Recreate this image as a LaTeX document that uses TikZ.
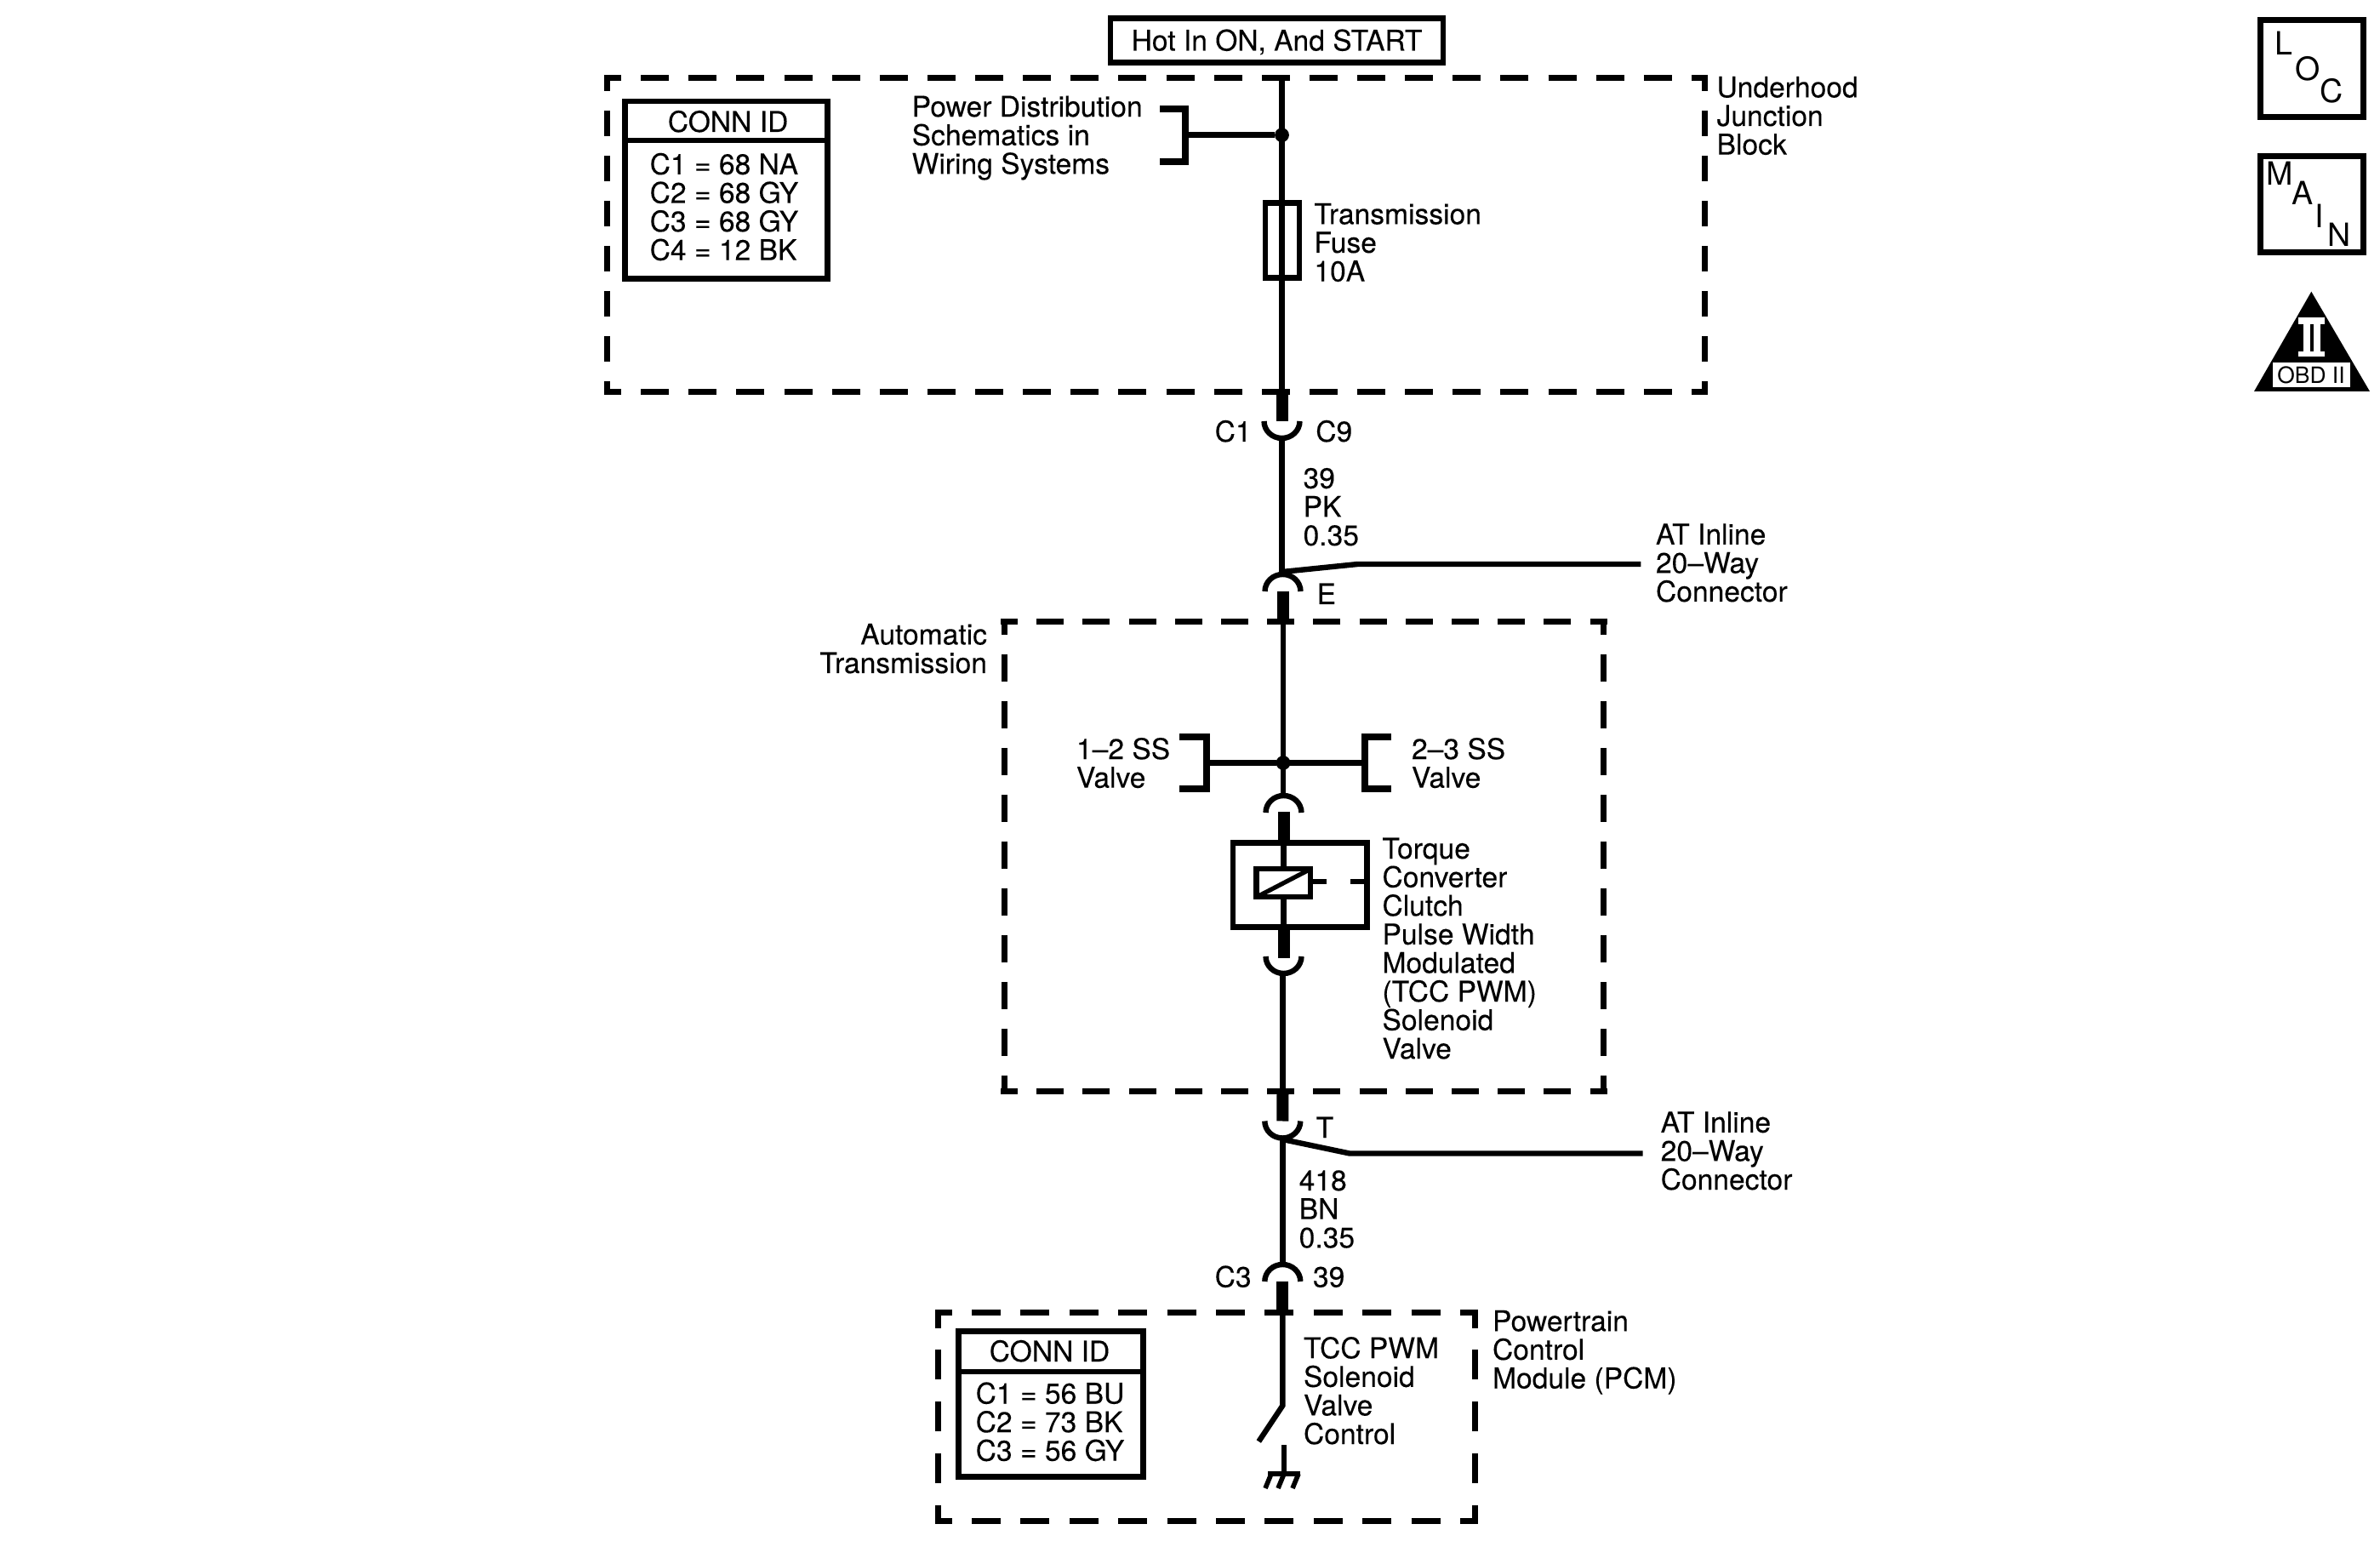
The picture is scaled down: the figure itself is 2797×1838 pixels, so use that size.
\documentclass[tikz,border=0pt]{standalone}
\usepackage{fontspec}
\setmainfont{TeX Gyre Heros}
\newfontfamily\lblfont{TeX Gyre Heros}[FakeBold=0.12]
\tikzset{
  wire/.style={line width=1.6pt,line join=miter},
  bracket/.style={line width=1.8pt,line join=miter},
  thickwire/.style={line width=3.5pt},
  frame/.style={line width=1.75pt},
  solid box/.style={draw,rectangle,line width=1.6pt,inner sep=0pt,outer sep=0pt},
  lbl/.style={inner sep=0pt,outer sep=0pt,anchor=base west,align=left,font=\lblfont\fontsize{8.4pt}{8.4pt}\selectfont},
  lblr/.style={lbl,anchor=base east,align=right},
  icon/.style={inner sep=0pt,outer sep=0pt,anchor=base west,font=\fontsize{9.4pt}{9.4pt}\selectfont},
  dot/.style={circle,fill,inner sep=0pt,outer sep=0pt,minimum size=4.2pt},
}
\newcommand{\connU}[1]{\draw[wire] (#1) ++(-21,0) arc[start angle=180,end angle=360,x radius=5.25pt,y radius=5pt];}
\newcommand{\connN}[1]{\draw[wire] (#1) ++(-21,0) arc[start angle=180,end angle=0,x radius=5.25pt,y radius=5pt];}
\begin{document}
\begin{tikzpicture}[x=0.25pt,y=-0.25pt]
\useasboundingbox (0,0) rectangle (2797,1838);

% --- dashed frames -------------------------------------------------
\coordinate (uhnw) at (709.5,91.7);  \coordinate (uhne) at (2007,91.7);
\coordinate (uhsw) at (709.5,460.7); \coordinate (uhse) at (2007,460.7);
\coordinate (uhtl) at (713,88);  \coordinate (uhbl) at (713,464);
\coordinate (uhtr) at (2003.5,88); \coordinate (uhbr) at (2003.5,464);
\draw[frame,dash pattern=on 8.25pt off 5.78pt,dash phase=3.1pt] (uhnw) -- (uhne);
\draw[frame,dash pattern=on 8.25pt off 5.78pt,dash phase=3.1pt] (uhsw) -- (uhse);
\draw[frame,dash pattern=on 7.5pt off 5.75pt,dash phase=2.8pt] (uhtl) -- (uhbl);
\draw[frame,dash pattern=on 7.5pt off 5.75pt,dash phase=2.8pt] (uhtr) -- (uhbr);

\coordinate (atnw) at (1176,730.7);  \coordinate (atne) at (1888.6,730.7);
\coordinate (atsw) at (1176,1282.3); \coordinate (atse) at (1888.6,1282.3);
\coordinate (attl) at (1180,727);  \coordinate (atbl) at (1180,1285.7);
\coordinate (attr) at (1884.8,727); \coordinate (atbr) at (1884.8,1285.7);
\draw[frame,dash pattern=on 8pt off 5.55pt,dash phase=3pt] (atnw) -- (atne);
\draw[frame,dash pattern=on 8pt off 5.55pt,dash phase=3pt] (atsw) -- (atse);
\draw[frame,dash pattern=on 8pt off 5.75pt,dash phase=3.25pt] (attl) -- (atbl);
\draw[frame,dash pattern=on 8pt off 5.75pt,dash phase=3.25pt] (attr) -- (atbr);

\coordinate (pcnw) at (1099,1542);   \coordinate (pcne) at (1736.7,1542);
\coordinate (pcsw) at (1099,1787);   \coordinate (pcse) at (1736.7,1787);
\coordinate (pctl) at (1102.6,1539); \coordinate (pcbl) at (1102.6,1790.7);
\coordinate (pctr) at (1733.3,1539); \coordinate (pcbr) at (1733.3,1790.7);
\draw[frame,dash pattern=on 8.5pt off 5.85pt,dash phase=3.6pt] (pcnw) -- (pcne);
\draw[frame,dash pattern=on 8.5pt off 5.85pt,dash phase=3.6pt] (pcsw) -- (pcse);
\draw[frame,dash pattern=on 8.75pt off 6.42pt,dash phase=3.3pt] (pctl) -- (pcbl);
\draw[frame,dash pattern=on 8.75pt off 6.42pt,dash phase=3.3pt] (pctr) -- (pcbr);

% --- top: supply -----------------------------------------------------
\node[solid box,minimum width=97.75pt,minimum height=13pt,text height=6pt,text depth=0pt,font=\lblfont\fontsize{8.4pt}{8.4pt}\selectfont] (hot) at (1500.5,47.5) {Hot In ON, And START};

\coordinate (wtop) at (1506.5,91);
\coordinate (c1thick) at (1506.5,457);
\coordinate (c1end) at (1506.5,495);
\coordinate (c1bot) at (1506.5,515);
\coordinate (ecap) at (1506.5,675);
\coordinate (eend) at (1507.5,695);
\coordinate (ethick) at (1507.5,730);
\node[dot] (j1) at (1506.5,158.7) {};
\node[solid box,minimum width=10pt,minimum height=22pt] (fuse) at (1506.8,282.6) {};
\draw[wire] (wtop) -- (c1thick);
\draw[thickwire] (c1thick) -- (c1end);
\connU{c1end}
\draw[wire] (c1bot) -- (ecap);
\connN{eend}
\draw[thickwire] (eend) -- (ethick);

% bracket: Power Distribution
\coordinate (b1t) at (1363.3,128); \coordinate (b1c) at (1393,128);
\coordinate (b1d) at (1393,190); \coordinate (b1b) at (1363.3,190);
\coordinate (b1m) at (1393,158.7);
\draw[bracket] (b1t) -- (b1c) -- (b1d) -- (b1b);
\draw[wire] (b1m) -- (j1);

\node[lbl] (pdist) at (1071.7,204.3) {Power Distribution\\Schematics in\\Wiring Systems};
\node[lbl] (fuselbl) at (1544.4,330.6) {Transmission\\Fuse\\10A};
\node[lbl] (uhlbl) at (2017.6,181.6) {Underhood\\Junction\\Block};
\node[lbl] (c1lbl) at (1427.7,519) {C1};
\node[lbl] (c9lbl) at (1546.3,519) {C9};
\node[lbl] (w39) at (1531.6,641) {39\\PK\\0.35};
\node[lbl] (elbl) at (1547.6,710) {E};
\node[lbl] (at1) at (1946,707) {AT Inline\\20–Way\\Connector};
\coordinate (brE0) at (1507,672);
\coordinate (brE1) at (1595.4,663);
\coordinate (brE2) at (1928.3,663);
\draw[wire] (brE0) -- (brE1) -- (brE2);

% conn id 1
\node[solid box,minimum width=59.5pt,minimum height=52.1pt] (conn1) at (853.5,223.2) {};
\draw[wire] (conn1.west |- 0,165) -- (conn1.east |- 0,165);
\node[lbl,anchor=base] (conn1t) at (855.6,155) {CONN ID};
\node[lbl] (conn1l) at (763.7,305.7) {C1 = 68 NA\\C2 = 68 GY\\C3 = 68 GY\\C4 = 12 BK};

% --- automatic transmission -------------------------------------------
\coordinate (at1w) at (1508,730);
\node[dot] (j2) at (1508,896.5) {};
\coordinate (cap2) at (1508,933);
\coordinate (cap2end) at (1508.5,955);
\draw[wire] (at1w) -- (cap2);
\connN{cap2end}
\coordinate (t2a) at (1508.5,954);
\coordinate (t2b) at (1508.5,988);
\draw[thickwire] (t2a) -- (t2b);

\coordinate (b2t) at (1386,866); \coordinate (b2c) at (1418,866);
\coordinate (b2d) at (1418,927); \coordinate (b2b) at (1386,927);
\coordinate (b2m) at (1418,896.5);
\draw[bracket] (b2t) -- (b2c) -- (b2d) -- (b2b);
\draw[wire] (b2m) -- (j2);
\coordinate (b3t) at (1635,866); \coordinate (b3c) at (1604,866);
\coordinate (b3d) at (1604,927); \coordinate (b3b) at (1635,927);
\coordinate (b3m) at (1604,896.5);
\draw[bracket] (b3t) -- (b3c) -- (b3d) -- (b3b);
\draw[wire] (j2) -- (b3m);

\node[lbl] (ss12) at (1265,925.7) {1–2 SS\\Valve};
\node[lbl] (ss23) at (1659,925.7) {2–3 SS\\Valve};
\node[lblr] (atlbl) at (1160,791) {Automatic\\Transmission};

% TCC solenoid
\node[solid box,minimum width=39.4pt,minimum height=24.75pt] (tcc) at (1527.8,1039.9) {};
\node[solid box,minimum width=15.9pt,minimum height=8.25pt] (sol) at (1508.3,1037.8) {};
\draw[wire,line width=1.3pt] (sol.south west) -- (sol.north east);
\draw[wire] (tcc.north -| sol.north) -- (sol.north);
\draw[wire] (sol.south) -- (tcc.south -| sol.south);
\coordinate (st1) at (1559,1036);
\coordinate (st2) at (1587,1036);
\draw[wire] (sol.east |- st1) -- (st1);
\draw[wire] (st2) -- (tcc.east |- st2);
\coordinate (t3a) at (1508.5,1092);
\coordinate (t3b) at (1508.5,1126);
\draw[thickwire] (t3a) -- (t3b);
\coordinate (cap3) at (1508.5,1124);
\connU{cap3}
\coordinate (w3a) at (1507.5,1143);
\coordinate (w3b) at (1507.5,1284);
\draw[wire] (w3a) -- (w3b);
\node[lbl] (tcclbl) at (1624.5,1244.2) {Torque\\Converter\\Clutch\\Pulse Width\\Modulated\\(TCC PWM)\\Solenoid\\Valve};

% --- lower connectors ----------------------------------------------------
\coordinate (t4b) at (1507.3,1317.5);
\draw[thickwire] (w3b) -- (t4b);
\connU{t4b}
\coordinate (tbot) at (1507.3,1338);
\coordinate (cap4) at (1507.3,1485);
\draw[wire] (tbot) -- (cap4);
\coordinate (capend) at (1507.3,1506);
\connN{capend}
\coordinate (t5b) at (1507.3,1541);
\draw[thickwire] (capend) -- (t5b);
\coordinate (brT0) at (1507.3,1339);
\coordinate (brT1) at (1586,1355.5);
\coordinate (brT2) at (1930.7,1355.5);
\draw[wire] (brT0) -- (brT1) -- (brT2);
\node[lbl] (tlbl) at (1546.7,1337) {T};
\node[lbl] (at2) at (1951.7,1398) {AT Inline\\20–Way\\Connector};
\node[lbl] (w418) at (1526.7,1466.3) {418\\BN\\0.35};
\node[lbl] (c3lbl) at (1427.7,1512.5) {C3};
\node[lbl] (p39) at (1543,1512.5) {39};

% --- PCM ----------------------------------------------------------------
\coordinate (swtop) at (1507.3,1652);
\coordinate (swend) at (1479.3,1694);
\draw[wire] (t5b) -- (swtop) -- (swend);
\coordinate (gtop) at (1509,1698);
\coordinate (gbar) at (1509,1732);
\draw[wire] (gtop) -- (gbar);
\coordinate (gl) at (1490,1732); \coordinate (gr) at (1527.7,1732);
\draw[line width=1.4pt] (gl) -- (gr);
\coordinate (g1) at (1494,1732); \coordinate (g1e) at (1487,1749);
\coordinate (g2) at (1509,1732); \coordinate (g2e) at (1502,1749);
\coordinate (g3) at (1526,1732); \coordinate (g3e) at (1519,1749);
\draw[line width=1.4pt] (g1) -- (g1e) (g2) -- (g2e) (g3) -- (g3e);
\node[lbl] (tccctl) at (1532,1697) {TCC PWM\\Solenoid\\Valve\\Control};
\node[lbl] (pcmlbl) at (1754,1631.5) {Powertrain\\Control\\Module (PCM)};

\node[solid box,minimum width=54.25pt,minimum height=42.8pt] (conn2) at (1235,1650) {};
\draw[wire] (conn2.west |- 0,1612) -- (conn2.east |- 0,1612);
\node[lbl] (conn2t) at (1162.7,1600) {CONN ID};
\node[lbl] (conn2l) at (1146.7,1716.7) {C1 = 56 BU\\C2 = 73 BK\\C3 = 56 GY};

% --- icons ---------------------------------------------------------------
\node[solid box,line width=1.75pt,minimum width=30.25pt,minimum height=28.5pt] (loc) at (2717,80.5) {};
\node[icon] (locL) at (2673,65) {L};
\node[icon] (locO) at (2697.7,95) {O};
\node[icon] (locC) at (2726,120.7) {C};
\node[solid box,line width=1.75pt,minimum width=30.25pt,minimum height=28.25pt] (main) at (2717,240) {};
\node[icon] (mainM) at (2663,218) {M};
\node[icon] (mainA) at (2693,240.7) {A};
\node[icon] (mainI) at (2720,267.7) {I};
\node[icon] (mainN) at (2735,290) {N};

\fill (2716.3,342.7) -- (2785,460) -- (2649,460) -- cycle;
\fill[white] (2700.7,373.3) rectangle (2732.3,380.7);
\fill[white] (2700.7,412.7) rectangle (2732.3,419);
\fill[white] (2706.7,380) rectangle (2715,413);
\fill[white] (2719.3,380) rectangle (2727.3,413);
\fill[white] (2671,425.7) rectangle (2762.3,455);
\node[inner sep=0pt,outer sep=0pt,anchor=base,font=\fontsize{6.6pt}{6.6pt}\selectfont] (obd) at (2716,450.7) {OBD II};
\end{tikzpicture}
\end{document}
